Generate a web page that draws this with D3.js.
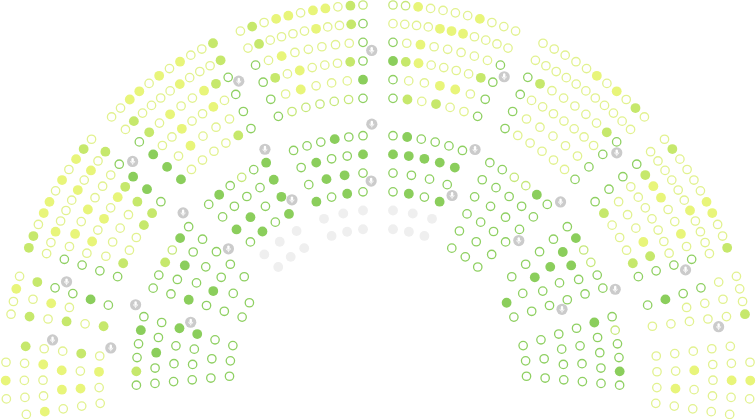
<!DOCTYPE html>
<html>
<head>
<meta charset="utf-8" />
<title>Seats</title>
<script src="https://d3js.org/d3.v7.min.js"></script>
<style>
  body { margin: 0; padding: 0; background: #ffffff; }
  svg { display: block; }
</style>
</head>
<body>
<div id="chart"></div>
<script>
// aisles in degrees (0 = right, 90 = up); rows go outer -> inner, seats left -> right
// G/L/Y filled, g/l/y outline, e empty seat, . no seat
const outerEdges = [[188.5, 172.6], [172.6, 162], [162, 138], [138, 114], [114, 90],
                    [90, 66], [66, 42], [42, 18], [18, 7.4], [7.4, -8.5]];
const outerRows = [
  [".yYy.", "yyyyL", "YyyYy", "yYYy", "yYyL", "yyYy"],
  ["yyYy", "LyL", "yYg", "Lyg", "yG", "Lg"],
  ["LLyYYyYyYLy", "yyYyyyYyYyL", "gyYyYyyyg", "gyYyYyYLG", "gyyyyLG", "gLyyLLg"],
  ["yyYYyYyYyyL", "yLyyyyYyyyL", "gLyYyyYLg", "GyyYyyYyg", "GyYyyyg", "GyyyyLg"],
  ["yLyYYyYYyLl", "yLyyyyYyyLg", "gyYyyyyyg", "gLyYyyyLg", "gyYyyyG", "glllllg"],
  ["llYyyyyYyyy", "yyyyYYYyyyy", "gyYyyyyyg", "GLYyyyyLg", "gyyYYyg", "gLyLyyg"],
  ["yyyyyYyYyLy", "yyyyyyyyyyy", "gLyyyyyLg", "gyyyyyyyg", "gyyyyyg", "gyyyyyg"],
  ["yLyyyyYYyyL", "yyyyyyYyyyy", "gLYYyyYyg", "gyyyyyyyg", "gyyyYLg", "gLyyyLg"],
  ["yyyL", "yyy", "gyy", "gyy", "Gy", "gy"],
  [".yYy.", "yyYyy", "yyyyy", "yYyy", "yyYy", "yyyy"]
];
const innerEdges = [[185.5, 162], [162, 138], [138, 114], [114, 90],
                    [90, 66], [66, 42], [42, 18], [18, -5.5]];
const innerRows = [
  ["gLggGg", "ggGgg", "gggG", "gggG", "ggg", "ggg"],
  ["ggLlGg", "ggGgg", "Gggg", "gGgg", "ggg", "gg."],
  ["gGglgG", "ggggG", "GGgG", "gGgG", "eee", "eee"],
  ["gggGgg", "gGggG", "gGGg", "GgGg", "eee", "eee"],
  ["gGgggg", "GGGGG", "gggg", "gGgG", "eee", "eee"],
  ["ggllGg", "ggggg", "gggg", "gggg", "ggg", "ggg"],
  ["gGllgg", "gGGgg", "gGgg", "gGgg", "ggg", ".Gg"],
  ["glggGg", "Ggggg", "gggg", "gggg", "ggg", "ggg"]
];
// speaker microphones: [angle, ring]
const mics = [
  [91.1, 9.55], [91.4, 5.6], [92.0, 2.55],
  [115.2, 9.57], [116.4, 5.67], [115.9, 2.6],
  [138.7, 9.55], [139.9, 5.7], [139.4, 2.6],
  [163.0, 9.5], [163.4, 5.6], [163.7, 2.5],
  [173.5, 9.6], [173.8, 6.45],
  [67.2, 9.5], [66.9, 5.3], [67.8, 2.55],
  [43.2, 9.6], [43.8, 5.6], [44.1, 2.55],
  [19.2, 9.5], [20.3, 5.6], [20.2, 2.55],
  [8.4, 10.5]
];
const seatColors = { G: '#8bce5c', g: '#8fd062', L: '#c6e86c', l: '#c6e87a',
                     Y: '#e8f57a', y: '#e2f290', e: '#efefef' };

const width = 756, height = 419;
const cx = 378, cy = 377;
const aislePad = 15;
const ring = d3.scaleLinear().domain([0, 12]).range([148.5, 372.3]);
const rad = d3.scaleLinear().domain([0, 180]).range([0, Math.PI]);

const buildSeats = (edges, rows, topRing) => {
  const seats = [];
  edges.forEach((e, si) => {
    rows[si].forEach((row, ri) => {
      const r = ring(topRing - ri);
      const pad = Math.asin(aislePad / r) * 180 / Math.PI;
      const a0 = e[0] - pad, a1 = e[1] + pad;
      const n = row.length;
      row.split('').forEach((c, k) => {
        if (c === '.') return;
        const a = n === 1 ? (a0 + a1) / 2 : a0 + (a1 - a0) * k / (n - 1);
        seats.push({ code: c, r: r, a: a });
      });
    });
  });
  return seats;
};

const seats = buildSeats(outerEdges, outerRows, 12).concat(buildSeats(innerEdges, innerRows, 5));
const px = d => cx + d.r * Math.cos(rad(d.a));
const py = d => cy - d.r * Math.sin(rad(d.a));

const svg = d3.select('#chart').append('svg')
  .attr('width', width)
  .attr('height', height);

const filled = c => c === c.toUpperCase() || c === 'e';

svg.append('g').selectAll('circle')
  .data(seats)
  .enter()
  .append('circle')
    .attr('cx', px)
    .attr('cy', py)
    .attr('r', d => filled(d.code) ? 4.9 : 4.2)
    .attr('fill', d => filled(d.code) ? seatColors[d.code] : '#ffffff')
    .attr('stroke', d => filled(d.code) ? 'none' : seatColors[d.code])
    .attr('stroke-width', 1.3);

const micData = mics.map(m => ({ r: ring(m[1]), a: m[0] }));
const mg = svg.append('g').selectAll('g')
  .data(micData)
  .enter()
  .append('g')
    .attr('transform', d => 'translate(' + px(d) + ',' + py(d) + ')');

mg.append('circle').attr('r', 5.6).attr('fill', '#cbcbcb');
mg.append('rect')
  .attr('x', -1.2).attr('y', -3.4).attr('width', 2.4).attr('height', 4.4).attr('rx', 1.2)
  .attr('fill', '#ffffff');
mg.append('path')
  .attr('d', 'M-2.1,-0.4 A2.1,2.1 0 0 0 2.1,-0.4 M0,1.7 L0,3.3')
  .attr('fill', 'none')
  .attr('stroke', '#ffffff')
  .attr('stroke-width', 0.8);
</script>
</body>
</html>
